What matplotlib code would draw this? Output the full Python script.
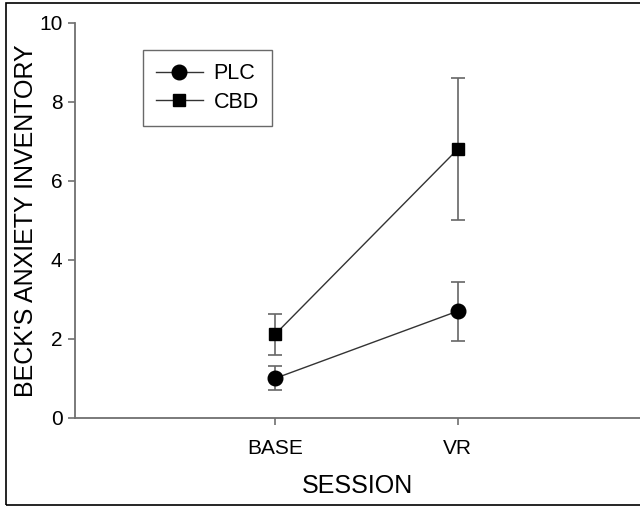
import matplotlib
matplotlib.use('Agg')
import matplotlib.pyplot as plt
from matplotlib.patches import Rectangle

plt.rcParams['font.family'] = ['Liberation Sans', 'DejaVu Sans']

sessions = ['BASE', 'VR']
x_pos = [1, 2]

plc_mean = [1.0, 2.7]
plc_err = [0.3, 0.75]
cbd_mean = [2.12, 6.8]
cbd_err = [0.52, 1.8]

fig = plt.figure(figsize=(6.4, 5.07), dpi=100)
ax = fig.add_axes([0.117, 0.176, 0.883, 0.779])

# outer frame (right side cropped off in the original)
fig.patches.append(Rectangle((0.009, 0.004), 1.2, 0.99, transform=fig.transFigure,
                             fill=False, edgecolor='black', linewidth=1.2))

line_col = '#333333'
err_col = '#666666'

ax.errorbar(x_pos, plc_mean, yerr=plc_err, color=line_col, ecolor=err_col,
            elinewidth=1.2, capsize=5, capthick=1.2, linewidth=1,
            marker='o', markersize=10.5, markerfacecolor='black',
            markeredgecolor='black', label='PLC', zorder=3)
ax.errorbar(x_pos, cbd_mean, yerr=cbd_err, color=line_col, ecolor=err_col,
            elinewidth=1.2, capsize=5, capthick=1.2, linewidth=1,
            marker='s', markersize=9, markerfacecolor='black',
            markeredgecolor='black', label='CBD', zorder=3)

ax.set_xlim(-0.1, 3.0)
ax.set_ylim(0, 10)
ax.set_yticks([0, 2, 4, 6, 8, 10])
ax.set_xticks(x_pos)
ax.set_xticklabels(sessions)

for side in ['top', 'right']:
    ax.spines[side].set_visible(False)
for side in ['left', 'bottom']:
    ax.spines[side].set_color('#707070')
    ax.spines[side].set_linewidth(1.3)

ax.tick_params(direction='out', length=5, width=1.2, color='#707070',
               labelsize=15, pad=4)
ax.tick_params(axis='x', pad=10)
ax.set_xlabel('SESSION', fontsize=18, labelpad=12)
ax.set_ylabel("BECK'S ANXIETY INVENTORY", fontsize=18)
ax.yaxis.set_label_coords(-0.066, 0.5)

handles, labels = ax.get_legend_handles_labels()
handles = [h[0] for h in handles]
leg = ax.legend(handles, labels, loc='upper left', bbox_to_anchor=(0.12, 0.93),
                fontsize=15.5, frameon=True, fancybox=False, handlelength=2.2,
                borderpad=0.6, labelspacing=0.35, handletextpad=0.5,
                borderaxespad=0)
leg.get_frame().set_edgecolor('#444444')
leg.get_frame().set_linewidth(1.0)

fig.savefig('out.png', dpi=100)
